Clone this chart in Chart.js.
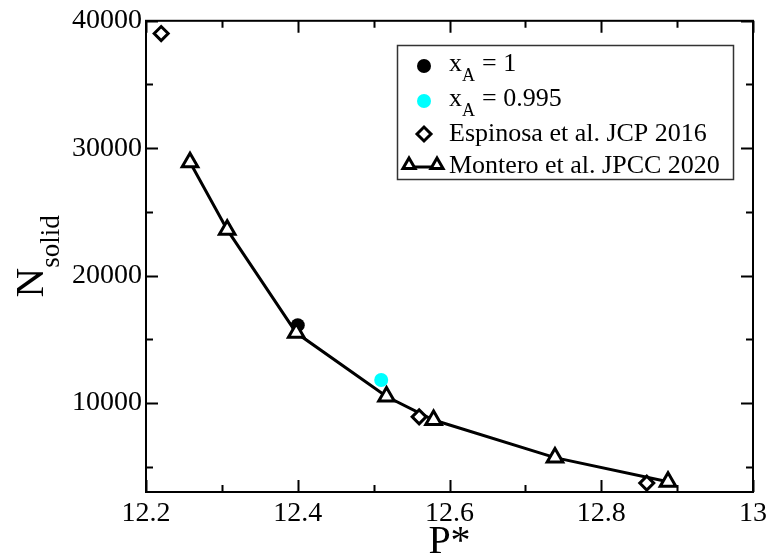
<!DOCTYPE html>
<html>
<head>
<meta charset="utf-8">
<script src="https://cdn.jsdelivr.net/npm/chart.js@4.4.1/dist/chart.umd.min.js"></script>
<style>
  body { margin: 0; background: #fff; }
  #wrap { width: 772px; height: 558px; }
</style>
</head>
<body>
<div id="wrap"><canvas id="chart"></canvas></div>
<script>
// solid cluster size N_solid against reduced pressure P*
var pA1 = [12.4];
var nA1 = [16100];
var pA0995 = [12.51];
var nA0995 = [11800];
var pEspinosa = [12.22, 12.56, 12.86];
var nEspinosa = [39000, 8900, 3700];
var pMontero = [12.258, 12.307, 12.398, 12.517, 12.579, 12.739, 12.888];
var nMontero = [28900, 23600, 15500, 10500, 8650, 5700, 3800];

var xTicks = [12.2, 12.4, 12.6, 12.8, 13];
var xMinor = [12.3, 12.5, 12.7, 12.9];
var yTicks = [10000, 20000, 30000, 40000];
var yMinor = [5000, 15000, 25000, 35000];

var serif = "'Liberation Serif', 'DejaVu Serif', serif";

function points(xs, ys){
  return xs.map(function(x, i){ return {x: x, y: ys[i]} });
}

// draws a run of text pieces along one baseline, each with its own size and drop
function drawPieces(ctx, x, y, pieces){
  pieces.forEach(function(p){
    ctx.font = p.size + 'px ' + serif;
    ctx.fillText(p.text, x, y + (p.dy || 0));
    x += ctx.measureText(p.text).width + (p.gap || 0);
  });
}

// box round the plot with inward ticks on all four sides
var frame = {
  id: 'frame',
  afterDraw: function(chart){
    var ctx = chart.ctx, a = chart.chartArea;
    var xs = chart.scales.x, ys = chart.scales.y;
    ctx.save();
    ctx.strokeStyle = '#000';
    ctx.lineWidth = 2;
    ctx.strokeRect(a.left, a.top, a.right - a.left, a.bottom - a.top);
    ctx.beginPath();
    function xt(vals, len){
      vals.forEach(function(v){
        var px = Math.round(xs.getPixelForValue(v)) + 0.5;
        ctx.moveTo(px, a.bottom); ctx.lineTo(px, a.bottom - len);
        ctx.moveTo(px, a.top); ctx.lineTo(px, a.top + len);
      });
    }
    function yt(vals, len){
      vals.forEach(function(v){
        var py = Math.round(ys.getPixelForValue(v)) + 0.5;
        ctx.moveTo(a.left, py); ctx.lineTo(a.left + len, py);
        ctx.moveTo(a.right, py); ctx.lineTo(a.right - len, py);
      });
    }
    xt(xTicks, 12); xt(xMinor, 7);
    yt(yTicks, 12); yt(yMinor, 7);
    ctx.stroke();

    // axis titles
    ctx.fillStyle = '#000';
    ctx.textBaseline = 'alphabetic';
    ctx.textAlign = 'left';
    ctx.font = '40px ' + serif;
    var pw = ctx.measureText('P*').width;
    ctx.fillText('P*', (a.left + a.right) / 2 - pw / 2, 553);

    ctx.translate(43, (a.top + a.bottom) / 2);
    ctx.rotate(-Math.PI / 2);
    ctx.font = '41px ' + serif;
    var nw = ctx.measureText('N').width;
    ctx.font = '27px ' + serif;
    var sw = ctx.measureText('solid').width;
    drawPieces(ctx, -(nw + sw) / 2, 0, [
      {text: 'N', size: 41},
      {text: 'solid', size: 27, dy: 16}
    ]);
    ctx.restore();
  }
};

// legend box with subscripted labels
var legendBox = {
  id: 'legendBox',
  afterDraw: function(chart){
    var ctx = chart.ctx;
    var ds = chart.data.datasets;
    var bx = 397, by = 45, bw = 336, bh = 134;
    ctx.save();
    ctx.fillStyle = '#fff';
    ctx.fillRect(bx, by, bw, bh);
    ctx.strokeStyle = '#333';
    ctx.lineWidth = 1.5;
    ctx.strokeRect(bx + 0.5, by + 0.5, bw, bh);

    var rows = [
      {set: 1, y: 66, base: 71, label: [{text: 'x', size: 26}, {text: 'A', size: 18, dy: 10, gap: 7}, {text: '= 1', size: 26}]},
      {set: 2, y: 101, base: 106, label: [{text: 'x', size: 26}, {text: 'A', size: 18, dy: 10, gap: 7}, {text: '= 0.995', size: 26}]},
      {set: 3, y: 134, base: 141, label: [{text: 'Espinosa et al. JCP 2016', size: 26}]},
      {set: 0, y: 165, base: 173, label: [{text: 'Montero et al. JPCC 2020', size: 26}]}
    ];
    rows.forEach(function(r){
      var d = ds[r.set];
      var opts = {pointStyle: d.pointStyle, radius: d.pointRadius, borderWidth: d.pointBorderWidth, rotation: 0};
      ctx.fillStyle = d.pointBackgroundColor;
      ctx.strokeStyle = d.pointBorderColor;
      ctx.lineWidth = d.pointBorderWidth;
      if (r.set === 0) {
        ctx.strokeStyle = d.borderColor;
        ctx.lineWidth = d.borderWidth;
        ctx.beginPath();
        ctx.moveTo(409, r.y + 2); ctx.lineTo(437, r.y + 2);
        ctx.stroke();
        opts.radius = 7;
        ctx.lineWidth = d.pointBorderWidth;
        Chart.helpers.drawPoint(ctx, opts, 409, r.y);
        Chart.helpers.drawPoint(ctx, opts, 437, r.y);
      } else {
        Chart.helpers.drawPoint(ctx, opts, 424, r.y);
      }
      ctx.fillStyle = '#000';
      ctx.textAlign = 'left';
      ctx.textBaseline = 'alphabetic';
      drawPieces(ctx, 449, r.base, r.label);
    });
    ctx.restore();
  }
};

new Chart(document.getElementById('chart'), {
  type: 'scatter',
  data: {
    datasets: [
      {
        label: 'Montero et al. JPCC 2020',
        data: points(pMontero, nMontero),
        showLine: true,
        borderColor: '#000',
        borderWidth: 3,
        pointStyle: 'triangle',
        pointRadius: 9,
        pointBorderWidth: 3,
        pointBorderColor: '#000',
        pointBackgroundColor: '#fff',
        order: 1
      },
      {
        label: 'x_A = 1',
        data: points(pA1, nA1),
        pointStyle: 'circle',
        pointRadius: 7,
        pointBorderWidth: 0,
        pointBorderColor: '#000',
        pointBackgroundColor: '#000',
        order: 2
      },
      {
        label: 'x_A = 0.995',
        data: points(pA0995, nA0995),
        pointStyle: 'circle',
        pointRadius: 7,
        pointBorderWidth: 0,
        pointBorderColor: '#00ffff',
        pointBackgroundColor: '#00ffff',
        order: 2
      },
      {
        label: 'Espinosa et al. JCP 2016',
        data: points(pEspinosa, nEspinosa),
        pointStyle: 'rectRot',
        pointRadius: 7,
        pointBorderWidth: 3,
        pointBorderColor: '#000',
        pointBackgroundColor: '#fff',
        order: 0
      }
    ]
  },
  options: {
    responsive: true,
    maintainAspectRatio: false,
    animation: false,
    layout: {padding: {top: 16, right: 18, left: 0, bottom: 0}},
    plugins: {
      legend: {display: false},
      tooltip: {enabled: false}
    },
    scales: {
      x: {
        type: 'linear',
        min: 12.2,
        max: 13,
        afterBuildTicks: function(s){ s.ticks = xTicks.map(function(v){ return {value: v} }) },
        afterFit: function(s){ s.height = 66 },
        grid: {display: false, drawTicks: false},
        border: {display: false},
        ticks: {
          color: '#000',
          padding: 5,
          maxRotation: 0,
          font: {family: serif, size: 28},
          callback: function(v){ return String(v) }
        }
      },
      y: {
        type: 'linear',
        min: 3000,
        max: 40000,
        afterBuildTicks: function(s){ s.ticks = yTicks.map(function(v){ return {value: v} }) },
        afterFit: function(s){ s.width = 146 },
        grid: {display: false, drawTicks: false},
        border: {display: false},
        ticks: {
          color: '#000',
          padding: 4,
          font: {family: serif, size: 28},
          callback: function(v){ return String(v) }
        }
      }
    }
  },
  plugins: [frame, legendBox]
});
</script>
</body>
</html>
